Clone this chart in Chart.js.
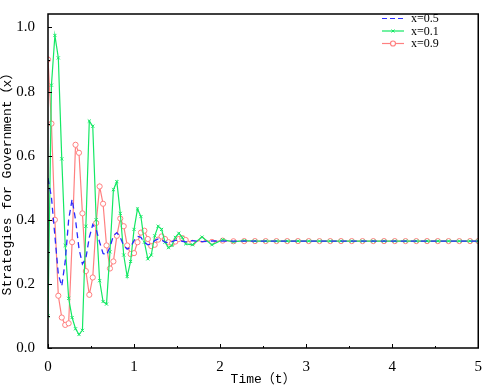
<!DOCTYPE html>
<html>
<head>
<meta charset="utf-8">
<script src="https://cdn.jsdelivr.net/npm/chart.js@4"></script>
<style>
  html, body { margin: 0; padding: 0; background: #fff; }
</style>
</head>
<body>
<canvas id="chart" width="484" height="390"></canvas>
<script>
const contingut = document.getElementById("chart");

// Temps (t) de cada punt de la simulacio
const temps = [0, 0.04, 0.08, 0.12, 0.16, 0.20, 0.24, 0.28, 0.32, 0.36, 0.40, 0.44, 0.48, 0.52, 0.56, 0.60,
  0.64, 0.68, 0.72, 0.76, 0.80, 0.84, 0.88, 0.92, 0.96, 1.00, 1.04, 1.08, 1.12, 1.16, 1.20, 1.24, 1.28,
  1.32, 1.36, 1.40, 1.44, 1.48, 1.52, 1.56, 1.60, 1.68, 1.79, 1.905, 2.03, 2.155, 2.28, 2.405, 2.53,
  2.655, 2.78, 2.905, 3.03, 3.155, 3.28, 3.405, 3.53, 3.655, 3.78, 3.905, 4.03, 4.155, 4.28, 4.405,
  4.53, 4.655, 4.78, 4.905, 5.0];

// x=0.5 (blau, discontinua)
const valorsX05 = [0.53, 0.47, 0.35, 0.23, 0.193, 0.27, 0.40, 0.464, 0.40, 0.31, 0.262, 0.28, 0.345, 0.385, 0.37, 0.33,
  0.295, 0.29, 0.315, 0.35, 0.36, 0.345, 0.32, 0.308, 0.315, 0.335, 0.348, 0.345, 0.33, 0.322, 0.325, 0.335, 0.34,
  0.337, 0.33, 0.328, 0.332, 0.336, 0.336, 0.333, 0.331, 0.335, 0.332, 0.334, 0.3335, 0.3335, 0.3335, 0.3335, 0.3335,
  0.3335, 0.3335, 0.3335, 0.3335, 0.3335, 0.3335, 0.3335, 0.3335, 0.3335, 0.3335, 0.3335, 0.3335, 0.3335, 0.3335, 0.3335,
  0.3335, 0.3335, 0.3335, 0.3335, 0.3335];

// x=0.1 (verd)
const valorsX01 = [0.10, 0.82, 0.975, 0.905, 0.59, 0.32, 0.155, 0.095, 0.06, 0.042, 0.055, 0.38, 0.708, 0.692, 0.40, 0.21,
  0.145, 0.137, 0.30, 0.494, 0.519, 0.42, 0.29, 0.223, 0.27, 0.37, 0.434, 0.41, 0.33, 0.278, 0.29, 0.35, 0.38,
  0.37, 0.33, 0.313, 0.32, 0.345, 0.358, 0.345, 0.325, 0.322, 0.346, 0.322, 0.338, 0.331, 0.335, 0.3335, 0.3335,
  0.3335, 0.3335, 0.3335, 0.3335, 0.3335, 0.3335, 0.3335, 0.3335, 0.3335, 0.3335, 0.3335, 0.3335, 0.3335, 0.3335, 0.3335,
  0.3335, 0.3335, 0.3335, 0.3335, 0.3335];

// x=0.9 (vermell, cercles)
const valorsX09 = [0.90, 0.70, 0.40, 0.163, 0.095, 0.072, 0.077, 0.33, 0.634, 0.609, 0.42, 0.24, 0.166, 0.22, 0.39, 0.504,
  0.45, 0.32, 0.248, 0.27, 0.35, 0.404, 0.38, 0.32, 0.293, 0.296, 0.33, 0.36, 0.366, 0.34, 0.318, 0.322, 0.338,
  0.348, 0.34, 0.33, 0.326, 0.332, 0.34, 0.343, 0.337, 0.328, 0.338, 0.331, 0.335, 0.333, 0.3335, 0.3335, 0.3335,
  0.3335, 0.3335, 0.3335, 0.3335, 0.3335, 0.3335, 0.3335, 0.3335, 0.3335, 0.3335, 0.3335, 0.3335, 0.3335, 0.3335, 0.3335,
  0.3335, 0.3335, 0.3335, 0.3335, 0.3335];

// Etiquetes dels eixos i de la llegenda
const ticksX = [0, 1, 2, 3, 4, 5];
const etiquetesX = ['0', '1', '2', '3', '4', '5'];
const minorsX = [0.5, 1.5, 2.5, 3.5, 4.5];
const ticksY = [0, 0.2, 0.4, 0.6, 0.8, 1.0];
const etiquetesY = ['0.0', '0.2', '0.4', '0.6', '0.8', '1.0'];
const minorsY = [0.1, 0.3, 0.5, 0.7, 0.9];
const etiquetesLlegenda = ['x=0.5', 'x=0.1', 'x=0.9'];

const blau = '#2b2bff';
const verd = '#14e864';
const vermell = '#ff8080';
const fontMono = "'Liberation Mono', 'Noto Sans CJK SC', monospace";
const fontSerif = "'Liberation Serif', 'DejaVu Serif', serif";

function punts(valors) {
  return temps.map((t, i) => ({ x: t, y: valors[i] }));
}

// Marc negre i marques cap a dins
const marcPlugin = {
  id: 'marc',
  afterDatasetsDraw(chart) {
    const ctx = chart.ctx;
    const a = chart.chartArea;
    const sx = chart.scales.x, sy = chart.scales.y;
    ctx.save();
    ctx.strokeStyle = '#000';
    ctx.lineWidth = 1;
    ctx.beginPath();
    ticksX.forEach(v => { const p = Math.round(sx.getPixelForValue(v)) + 0.5; ctx.moveTo(p, a.bottom); ctx.lineTo(p, a.bottom - 4); });
    minorsX.forEach(v => { const p = Math.round(sx.getPixelForValue(v)) + 0.5; ctx.moveTo(p, a.bottom); ctx.lineTo(p, a.bottom - 2); });
    ticksY.forEach(v => { const p = Math.round(sy.getPixelForValue(v)) + 0.5; ctx.moveTo(a.left, p); ctx.lineTo(a.left + 4, p); });
    minorsY.forEach(v => { const p = Math.round(sy.getPixelForValue(v)) + 0.5; ctx.moveTo(a.left, p); ctx.lineTo(a.left + 2, p); });
    ctx.stroke();
    ctx.lineWidth = 1.5;
    ctx.strokeRect(a.left, a.top, a.right - a.left, a.bottom - a.top);
    ctx.restore();
  },
  afterDraw(chart) {
    // Llegenda a dalt a la dreta
    const ctx = chart.ctx;
    const estils = [
      { color: blau, dash: [5, 3], marca: null },
      { color: verd, dash: [], marca: 'creu' },
      { color: vermell, dash: [], marca: 'cercle' }
    ];
    ctx.save();
    ctx.font = "12px " + fontSerif;
    ctx.textBaseline = 'middle';
    ctx.fillStyle = '#000';
    estils.forEach((e, i) => {
      const y = 18.5 + i * 12.5;
      ctx.strokeStyle = e.color;
      ctx.lineWidth = 1.2;
      ctx.setLineDash(e.dash);
      ctx.beginPath();
      ctx.moveTo(382, y);
      ctx.lineTo(404, y);
      ctx.stroke();
      ctx.setLineDash([]);
      if (e.marca === 'cercle') {
        ctx.fillStyle = '#fff';
        ctx.beginPath();
        ctx.arc(393, y, 2.5, 0, Math.PI * 2);
        ctx.fill();
        ctx.stroke();
      } else if (e.marca === 'creu') {
        ctx.lineWidth = 1;
        ctx.beginPath();
        ctx.moveTo(391.5, y - 1.5); ctx.lineTo(394.5, y + 1.5);
        ctx.moveTo(391.5, y + 1.5); ctx.lineTo(394.5, y - 1.5);
        ctx.stroke();
      }
      ctx.fillStyle = '#000';
      ctx.fillText(etiquetesLlegenda[i], 411, y + 0.5);
    });
    ctx.restore();
  }
};

const chart = new Chart(contingut, {
  type: 'line',
  data: {
    datasets: [
      {
        label: etiquetesLlegenda[0],
        data: punts(valorsX05),
        borderColor: blau,
        borderWidth: 1.3,
        borderDash: [6, 4],
        pointRadius: 0,
        fill: false
      },
      {
        label: etiquetesLlegenda[1],
        data: punts(valorsX01),
        borderColor: verd,
        borderWidth: 1.2,
        pointStyle: 'crossRot',
        pointRadius: 2.2,
        pointBorderWidth: 1,
        pointBorderColor: verd,
        fill: false
      },
      {
        label: etiquetesLlegenda[2],
        data: punts(valorsX09),
        borderColor: vermell,
        borderWidth: 1.2,
        pointStyle: 'circle',
        pointRadius: 2.6,
        pointBorderWidth: 1,
        pointBorderColor: vermell,
        pointBackgroundColor: '#fff',
        fill: false
      }
    ]
  },
  options: {
    responsive: false,
    animation: false,
    devicePixelRatio: 1,
    layout: { autoPadding: false, padding: { top: 2, right: 2, left: 0, bottom: 0 } },
    plugins: { legend: { display: false }, tooltip: { enabled: false } },
    elements: { line: { tension: 0 } },
    scales: {
      x: {
        type: 'linear',
        min: 0,
        max: 5,
        afterFit(scale) { scale.height = 42; },
        afterBuildTicks(scale) { scale.ticks = ticksX.map(v => ({ value: v })); },
        grid: { display: false },
        border: { display: false },
        ticks: {
          padding: 2,
          color: '#000',
          maxRotation: 0,
          font: { family: fontSerif, size: 15 },
          callback: (v, i) => etiquetesX[i]
        },
        title: {
          display: true,
          text: 'Time（t）',
          color: '#000',
          font: { family: fontMono, size: 13 },
          padding: { top: 0, bottom: 3 }
        }
      },
      y: {
        type: 'linear',
        min: 0,
        max: 1.042,
        afterFit(scale) { scale.width = 48; },
        afterBuildTicks(scale) { scale.ticks = ticksY.map(v => ({ value: v })); },
        grid: { display: false },
        border: { display: false },
        ticks: {
          padding: 5,
          color: '#000',
          font: { family: fontSerif, size: 15 },
          callback: (v, i) => etiquetesY[i]
        },
        title: {
          display: true,
          text: 'Strategies for Government（x）',
          color: '#000',
          font: { family: fontMono, size: 13 },
          padding: { top: 0, bottom: 0 }
        }
      }
    }
  },
  plugins: [marcPlugin]
});
</script>
</body>
</html>
